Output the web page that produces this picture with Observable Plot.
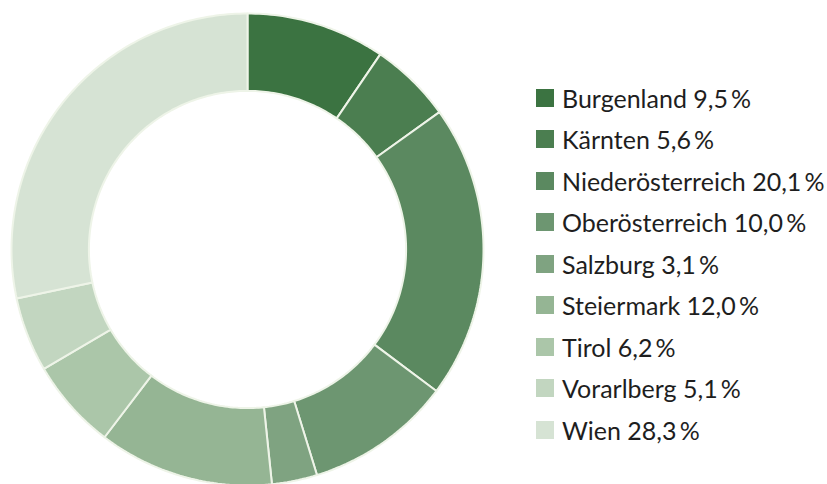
<!DOCTYPE html>
<html><head><meta charset="utf-8">
<script src="https://cdn.jsdelivr.net/npm/d3@7"></script>
<script src="https://cdn.jsdelivr.net/npm/@observablehq/plot@0.6"></script>
<style>
body{margin:0;background:#fff;font-family:Lato,"Noto Sans",sans-serif;}
#wrap{position:relative;width:827px;height:484px;overflow:hidden;}
#chart{position:absolute;left:0;top:0;}
#legend{position:absolute;left:536px;top:77px;}
.item{display:flex;align-items:center;height:41.5px;font-size:25px;color:#1e1e1e;white-space:nowrap;}
.sw{width:18px;height:18px;margin-right:8px;flex:none;}
</style></head><body>
<div id="wrap"><div id="chart"></div><div id="legend"></div></div>
<script>
const regions = ["Burgenland","Kärnten","Niederösterreich","Oberösterreich","Salzburg","Steiermark","Tirol","Vorarlberg","Wien"];
const shares = [9.5,5.6,20.1,10.0,3.1,12.0,6.2,5.1,28.3];
const labels = ["9,5 %","5,6 %","20,1 %","10,0 %","3,1 %","12,0 %","6,2 %","5,1 %","28,3 %"];
const colors = ["#3b7341","#4b7e50","#5b8960","#6d9671","#7fa381","#95b594","#abc6a9","#c2d6c0","#d6e3d4"];

const data = regions.map((r,i)=>({region:r, value:shares[i]}));
const pie = d3.pie().value(d=>d.value).sort(null)(data);
const R1 = 1, R0 = 0.672;
const pts = [];
for (const a of pie) {
  const n = Math.max(4, Math.ceil((a.endAngle - a.startAngle) * 60));
  for (let k=0;k<=n;k++){ const t=a.startAngle+(a.endAngle-a.startAngle)*k/n; pts.push({region:a.data.region, x:R1*Math.sin(t), y:R1*Math.cos(t)}); }
  for (let k=n;k>=0;k--){ const t=a.startAngle+(a.endAngle-a.startAngle)*k/n; pts.push({region:a.data.region, x:R0*Math.sin(t), y:R0*Math.cos(t)}); }
  const t=a.startAngle; pts.push({region:a.data.region, x:R1*Math.sin(t), y:R1*Math.cos(t)});
}
const cx=247, cy=249, rad=236;
const plot = Plot.plot({
  width: 500, height: 484, margin: 0,
  x: {domain:[-1,1], range:[cx-rad, cx+rad], axis:null},
  y: {domain:[-1,1], range:[cy+rad, cy-rad], axis:null},
  color: {domain: regions, range: colors},
  marks: [
    Plot.line(pts, {x:"x", y:"y", z:"region", fill:"region", stroke:"#eef4e8", strokeWidth:2, strokeLinejoin:"miter"})
  ]
});
document.getElementById("chart").append(plot);
const leg = document.getElementById("legend");
regions.forEach((r,i)=>{
  const d=document.createElement("div"); d.className="item";
  d.innerHTML=`<span class="sw" style="background:${colors[i]}"></span><span>${r} ${labels[i].replace(" ","\u2009")}</span>`;
  leg.append(d);
});
</script></body></html>
